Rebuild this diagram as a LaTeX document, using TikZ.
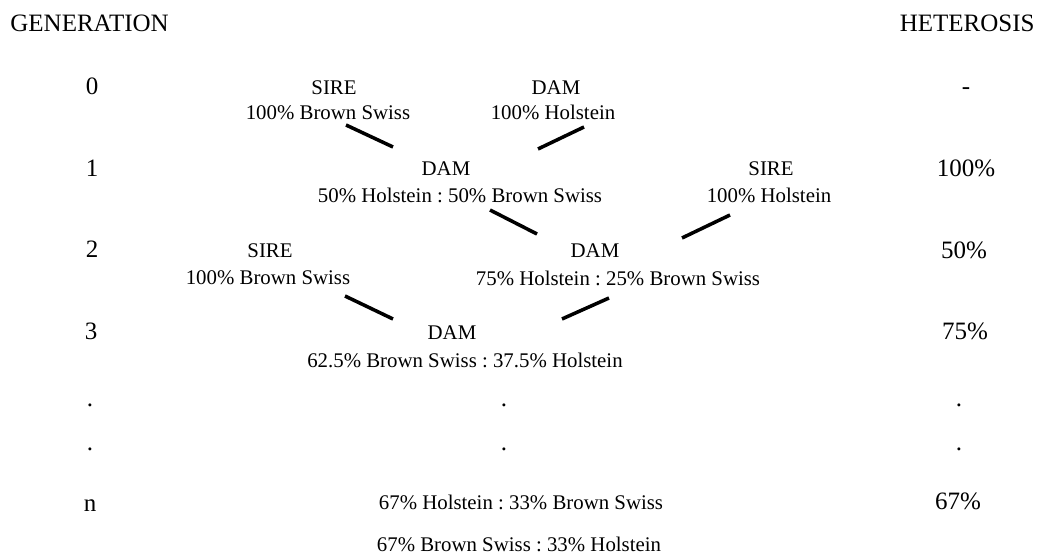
\documentclass[tikz,border=0pt]{standalone}
\usepackage{fontspec}
\setmainfont{Liberation Serif}
\usetikzlibrary{positioning}
\frenchspacing

\begin{document}
\begin{tikzpicture}[x=0.48pt, y=-0.48pt,
    big/.style={inner sep=0pt, anchor=base, font=\fontsize{12}{14}\selectfont},
    lbl/.style={inner sep=0pt, anchor=base, font=\fontsize{10}{12}\selectfont},
    link/.style={line width=1.7pt}]
  \useasboundingbox (0,0) rectangle (1039,554);

  % column headings
  \node[big, anchor=base west] (genhead) at (10,32) {GENERATION};
  \node[big, anchor=base east] (hethead) at (1035,32) {HETEROSIS};

  % generation numbers
  \node[big] (g0) at (92,95) {0};
  \node[big] (g1) at (92,177) {1};
  \node[big] (g2) at (92,258) {2};
  \node[big] (g3) at (91,340) {3};
  \node[big] (gd1) at (90,407) {.};
  \node[big] (gd2) at (90,451) {.};
  \node[big] (gn) at (90,511) {n};

  % heterosis values
  \node[big] (h0) at (966,95) {-};
  \node[big] (h1) at (966,177) {100\%};
  \node[big] (h2) at (964,259) {50\%};
  \node[big] (h3) at (965,340) {75\%};
  \node[big] (hd1) at (959,407) {.};
  \node[big] (hd2) at (959,451) {.};
  \node[big] (hn) at (958,510) {67\%};

  % generation 0
  \node[lbl] (sire0) at (334,95) {SIRE};
  \node[lbl] (sire0p) at (328,120) {100\% Brown Swiss};
  \node[lbl] (dam0) at (556,95) {DAM};
  \node[lbl] (dam0p) at (553,120) {100\% Holstein};

  % generation 1
  \node[lbl] (dam1) at (446,176) {DAM};
  \node[lbl] (dam1p) at (460,203) {50\% Holstein : 50\% Brown Swiss};
  \node[lbl] (sire1) at (771,176) {SIRE};
  \node[lbl] (sire1p) at (769,203) {100\% Holstein};

  % generation 2
  \node[lbl] (sire2) at (270,258) {SIRE};
  \node[lbl] (sire2p) at (268,285) {100\% Brown Swiss};
  \node[lbl] (dam2) at (595,258) {DAM};
  \node[lbl] (dam2p) at (618,286) {75\% Holstein : 25\% Brown Swiss};

  % generation 3
  \node[lbl] (dam3) at (452,340) {DAM};
  \node[lbl] (dam3p) at (465,368) {62.5\% Brown Swiss : 37.5\% Holstein};

  % continuation and limit
  \node[big] (md1) at (504,407) {.};
  \node[big] (md2) at (504,451) {.};
  \node[lbl] (mixn) at (521,510) {67\% Holstein : 33\% Brown Swiss};
  \node[lbl] (mixnalt) at (519,551) {67\% Brown Swiss : 33\% Holstein};

  % matings
  \draw[link] ([shift={(18,5)}]sire0p.base) -- ([shift={(-53,-29)}]dam1.base);
  \draw[link] ([shift={(31,7)}]dam0p.base) -- ([shift={(92,-27)}]dam1.base);
  \draw[link] ([shift={(30,7)}]dam1p.base) -- ([shift={(-58,-24)}]dam2.base);
  \draw[link] ([shift={(-39,12)}]sire1p.base) -- ([shift={(87,-20)}]dam2.base);
  \draw[link] ([shift={(77,11)}]sire2p.base) -- ([shift={(-59,-21)}]dam3.base);
  \draw[link] ([shift={(-9,12)}]dam2p.base) -- ([shift={(110,-21)}]dam3.base);
\end{tikzpicture}
\end{document}
